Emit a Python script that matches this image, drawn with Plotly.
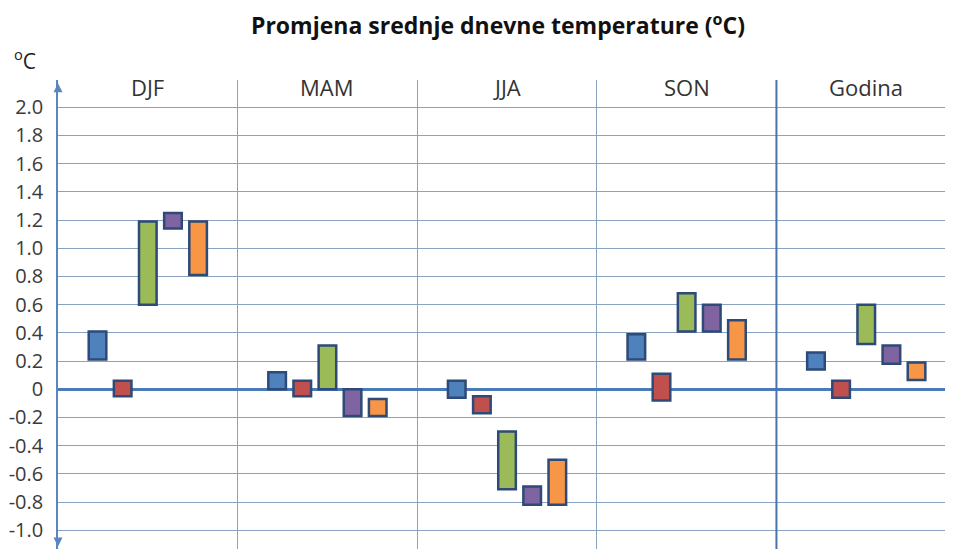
import plotly.graph_objects as go

# sezone / kategorije
categories = ['DJF', 'MAM', 'JJA', 'SON', 'Godina']

# donja i gornja granica za svaki niz (°C)
s1_lo = [0.21, 0.00, -0.06, 0.21, 0.14]
s1_hi = [0.41, 0.12, 0.06, 0.39, 0.26]
s2_lo = [-0.05, -0.05, -0.17, -0.08, -0.06]
s2_hi = [0.06, 0.06, -0.05, 0.11, 0.06]
s3_lo = [0.60, 0.00, -0.71, 0.41, 0.32]
s3_hi = [1.19, 0.31, -0.30, 0.68, 0.60]
s4_lo = [1.14, -0.19, -0.82, 0.41, 0.18]
s4_hi = [1.25, 0.00, -0.69, 0.60, 0.31]
s5_lo = [0.81, -0.19, -0.82, 0.21, 0.065]
s5_hi = [1.19, -0.07, -0.50, 0.49, 0.19]

tick_vals = [2.0, 1.8, 1.6, 1.4, 1.2, 1.0, 0.8, 0.6, 0.4, 0.2, 0, -0.2, -0.4, -0.6, -0.8, -1.0]
tick_text = ['2.0', '1.8', '1.6', '1.4', '1.2', '1.0', '0.8', '0.6', '0.4', '0.2', '0',
             '-0.2', '-0.4', '-0.6', '-0.8', '-1.0']

series = [
    (s1_lo, s1_hi, '#4f81bd'),
    (s2_lo, s2_hi, '#c0504d'),
    (s3_lo, s3_hi, '#9bbb59'),
    (s4_lo, s4_hi, '#8064a2'),
    (s5_lo, s5_hi, '#f79646'),
]

fnt = 'Open Sans'
fig = go.Figure()
for lo, hi, col in series:
    fig.add_trace(go.Bar(
        x=categories,
        base=lo,
        y=[h - l for l, h in zip(lo, hi)],
        marker=dict(color=col, line=dict(color='#2d4a78', width=2.5)),
        showlegend=False,
    ))

# stranica ima 8px margine (body), pa je figura malo manja
fig.update_layout(
    width=945, height=541,
    margin=dict(l=50, r=0, t=72, b=0),
    paper_bgcolor='white', plot_bgcolor='white',
    barmode='group', bargap=0.3, bargroupgap=0.3,
    title=dict(text='Promjena srednje dnevne temperature (<sup>o</sup>C)',
               x=0.5185, xref='container', y=0.966, yanchor='middle', xanchor='center',
               font=dict(family=fnt, size=23, color='#111111', weight='bold')),
    font=dict(family=fnt, size=20, color='#3a3a3a'),
)

fig.update_xaxes(
    range=[-0.5, 4.483], showticklabels=False, ticks='',
    showgrid=True, tickson='boundaries', gridcolor='#8aa3c0', gridwidth=1,
    showline=False, zeroline=False, automargin=False,
)
fig.update_yaxes(
    range=[-1.133, 2.193], tickvals=tick_vals, ticktext=tick_text,
    showgrid=True, gridcolor='#8aa3c0', gridwidth=1,
    zeroline=True, zerolinecolor='#4a7ab8', zerolinewidth=3,
    showline=True, linecolor='#5b85bf', linewidth=1.5,
    ticks='', ticklabelstandoff=9, tickfont=dict(size=20, color='#3a3a3a'),
    automargin=False,
)

# deblja razdjelnica ispred "Godina"
fig.add_shape(type='line', xref='x', yref='paper', x0=3.5, x1=3.5, y0=0, y1=1,
              line=dict(color='#4a72a8', width=2))

# nazivi sezona unutar grafa
for c in categories:
    fig.add_annotation(x=c, y=2.144, xref='x', yref='y', text=c, showarrow=False,
                       font=dict(family=fnt, size=22, color='#333333'))

# jedinica
fig.add_annotation(x=-0.037, y=1.043, xref='paper', yref='paper', text='<sup>o</sup>C',
                   showarrow=False, xanchor='center', yanchor='middle',
                   font=dict(family=fnt, size=21, color='#222222'))

# strelice na osi y
fig.add_annotation(x=-0.5, y=2.17, xref='x', yref='y', text='', showarrow=True,
                   ax=0, ay=10, arrowhead=2, arrowsize=1.2, arrowwidth=1.5, arrowcolor='#5b85bf')
fig.add_annotation(x=-0.5, y=-1.115, xref='x', yref='y', text='', showarrow=True,
                   ax=0, ay=-10, arrowhead=2, arrowsize=1.2, arrowwidth=1.5, arrowcolor='#5b85bf')

fig.write_html('out.html')
